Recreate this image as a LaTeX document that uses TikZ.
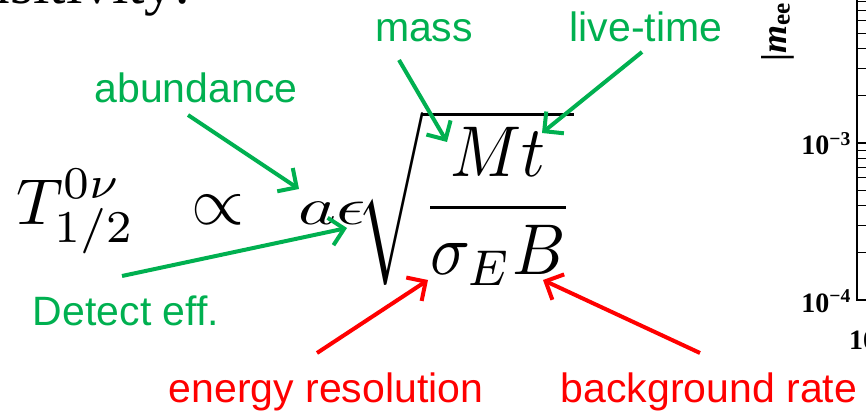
\documentclass[tikz,border=0pt]{standalone}
\usepackage{fontspec}
\usepackage{graphicx}
\usetikzlibrary{arrows.meta}
\newfontfamily\labelfont{Liberation Sans}
\newfontfamily\plotfont{Liberation Serif}
\definecolor{leafgreen}{HTML}{00B050}
\definecolor{alertred}{HTML}{FF0000}
\tikzset{term/.style={inner sep=0pt,anchor=base,font=\labelfont\fontsize{41}{49}\selectfont}, good/.style={term,text=leafgreen}, bad/.style={term,text=alertred}, goodflow/.style={-{Straight Barb[length=14pt,width=28pt]},line width=4pt,draw=leafgreen}, badflow/.style={goodflow,draw=alertred}, formula/.style={inner sep=0pt,anchor=base west}, ticklbl/.style={inner sep=0pt,font=\plotfont\bfseries\fontsize{28}{32}\selectfont}}

\begin{document}
\begin{tikzpicture}[x=1pt,y=-1pt]
\useasboundingbox (0,0) rectangle (866,419);
\clip (0,0) rectangle (866,419);
\node[inner sep=0pt,anchor=base east,font=\plotfont\fontsize{59}{64}\selectfont] (title) at (191,4) {Sensitivity:};
\node[formula] (half) at (16,225) {\scalebox{6.5}{$\displaystyle T^{0\nu}_{1/2}$}};
\node[formula] (prop) at (191,225) {\scalebox{6.8}{$\propto$}};
\node[formula] (ae) at (298,225) {\scalebox{7.2}[5.2]{$a\epsilon$}};
\node[formula,anchor=north west] (root) at (356,110) {\scalebox{6.6}[7.2]{$\displaystyle\sqrt{\frac{Mt}{\sigma_E B}}$}};
\node[good] (mass) at (424,42) {mass};
\node[good] (live) at (646,42) {live-time};
\node[good] (abund) at (196,103) {abundance};
\node[good] (detect) at (126,325) {Detect eff.};
\node[bad] (eres) at (326,402) {energy resolution};
\node[bad] (bkg) at (709,402) {background rate};
\coordinate (massFrom) at (399,60);
\coordinate (massTo) at (447,142);
\coordinate (liveFrom) at (642,52);
\coordinate (liveTo) at (542,133);
\coordinate (abundFrom) at (188,115);
\coordinate (abundTo) at (299,189);
\coordinate (detectFrom) at (122,276);
\coordinate (detectTo) at (347,228);
\coordinate (eresFrom) at (317,353);
\coordinate (eresTo) at (428,280);
\coordinate (bkgFrom) at (700,353);
\coordinate (bkgTo) at (543,280);
\draw[goodflow] (massFrom)--(massTo);
\draw[goodflow] (liveFrom)--(liveTo);
\draw[goodflow] (abundFrom)--(abundTo);
\draw[goodflow] (detectFrom)--(detectTo);
\draw[badflow] (eresFrom)--(eresTo);
\draw[badflow] (bkgFrom)--(bkgTo);
\draw[line width=1.5pt] (857,0)--(857,300)--(866,300);
\foreach \y in {143,300} \draw[line width=1.2pt] (857,\y)--++(12,0);
\foreach \k in {2,...,9} {\draw[line width=1pt] (857,{300-157*log10(\k)})--++(12,0); \draw[line width=1pt] (857,{143-157*log10(\k)})--++(12,0);}
\node[ticklbl,anchor=base east] (dec3) at (851,155) {10\textsuperscript{−3}};
\node[ticklbl,anchor=base east] (dec4) at (851,312) {10\textsuperscript{−4}};
\node[ticklbl,anchor=base west] (dec0) at (849,349) {10};
\node[inner sep=0pt,anchor=base west,rotate=90,font=\plotfont\bfseries\fontsize{36}{40}\selectfont] (mee) at (786,62) {|\textit{m}\textsubscript{ee}};
\end{tikzpicture}
\end{document}
